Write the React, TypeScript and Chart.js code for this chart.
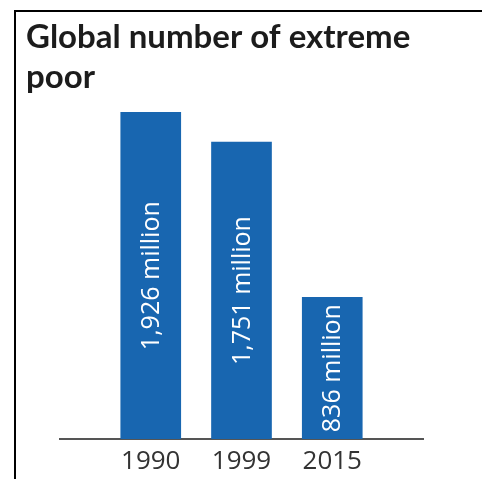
import React, { useEffect, useRef } from "react";
import { Chart, registerables } from "chart.js";

Chart.register(...registerables);

const titleLines = ["Global number of extreme", "poor"];
const years = ["1990", "1999", "2015"];
const values = [1926, 1751, 836];
const barLabels = ["1,926 million", "1,751 million", "836 million"];

const BLUE = "#1866B0";

const barLabelPlugin = {
  id: "barLabels",
  afterDatasetsDraw(chart: any) {
    const meta = chart.getDatasetMeta(0);
    const ctx = chart.ctx;
    ctx.save();
    ctx.fillStyle = "#ffffff";
    ctx.font = "400 25px 'Open Sans'";
    ctx.textAlign = "center";
    ctx.textBaseline = "middle";
    meta.data.forEach((bar: any, i: number) => {
      const cx = bar.x;
      const cy = (bar.y + bar.base) / 2;
      ctx.save();
      ctx.translate(cx, cy);
      ctx.rotate(-Math.PI / 2);
      ctx.fillText(barLabels[i], 0, 1);
      ctx.restore();
    });
    ctx.restore();
  },
};

export default function App() {
  const ref = useRef<HTMLCanvasElement>(null);
  useEffect(() => {
    if (!ref.current) return;
    const chart = new Chart(ref.current, {
      type: "bar",
      data: {
        datasets: [
          {
            data: years.map((_, i) => ({ x: i, y: values[i] })),
            backgroundColor: BLUE,
            borderWidth: 0,
            barThickness: 60,
          },
        ],
      },
      options: {
        responsive: false,
        animation: false,
        layout: { padding: { left: 26, right: 59, top: 0, bottom: 0 } },
        plugins: {
          legend: { display: false },
          tooltip: { enabled: false },
          title: {
            display: true,
            text: titleLines,
            align: "start",
            color: "#1c1c1c",
            font: { family: "Lato", weight: "bold", size: 33, lineHeight: 1.21 },
            padding: { top: 17, bottom: 3 },
          },
        },
        scales: {
          x: {
            type: "linear",
            min: -1,
            max: 3,
            offset: false,
            grid: { display: false, drawTicks: false, offset: false },
            border: { display: true, color: "#555555", width: 2 },
            afterBuildTicks: (scale: any) => {
              scale.ticks = years.map((_, i) => ({ value: i }));
            },
            afterFit: (scale: any) => {
              scale.height = 40;
            },
            ticks: {
              autoSkip: false,
              maxRotation: 0,
              padding: 7,
              color: "#333333",
              font: { family: "Open Sans", size: 26 },
              callback: (v: any) => years[v as number] ?? "",
            },
          },
          y: {
            min: 0,
            max: 2000,
            grid: { display: false },
            border: { display: false },
            ticks: { display: false },
            afterFit: (scale: any) => {
              scale.width = 34;
            },
          },
        },
      },
      plugins: [barLabelPlugin],
    });
    return () => chart.destroy();
  }, []);

  return (
    <div style={{ position: "fixed", left: 0, top: 0, width: 482, height: 479, background: "#fff" }}>
      <div
        style={{
          position: "absolute",
          left: 14,
          top: 10,
          right: 0,
          bottom: 0,
          borderLeft: "2px solid #000",
          borderTop: "2px solid #000",
        }}
      />
      <canvas ref={ref} width={482} height={479} style={{ position: "absolute", left: 0, top: 0 }} />
    </div>
  );
}
